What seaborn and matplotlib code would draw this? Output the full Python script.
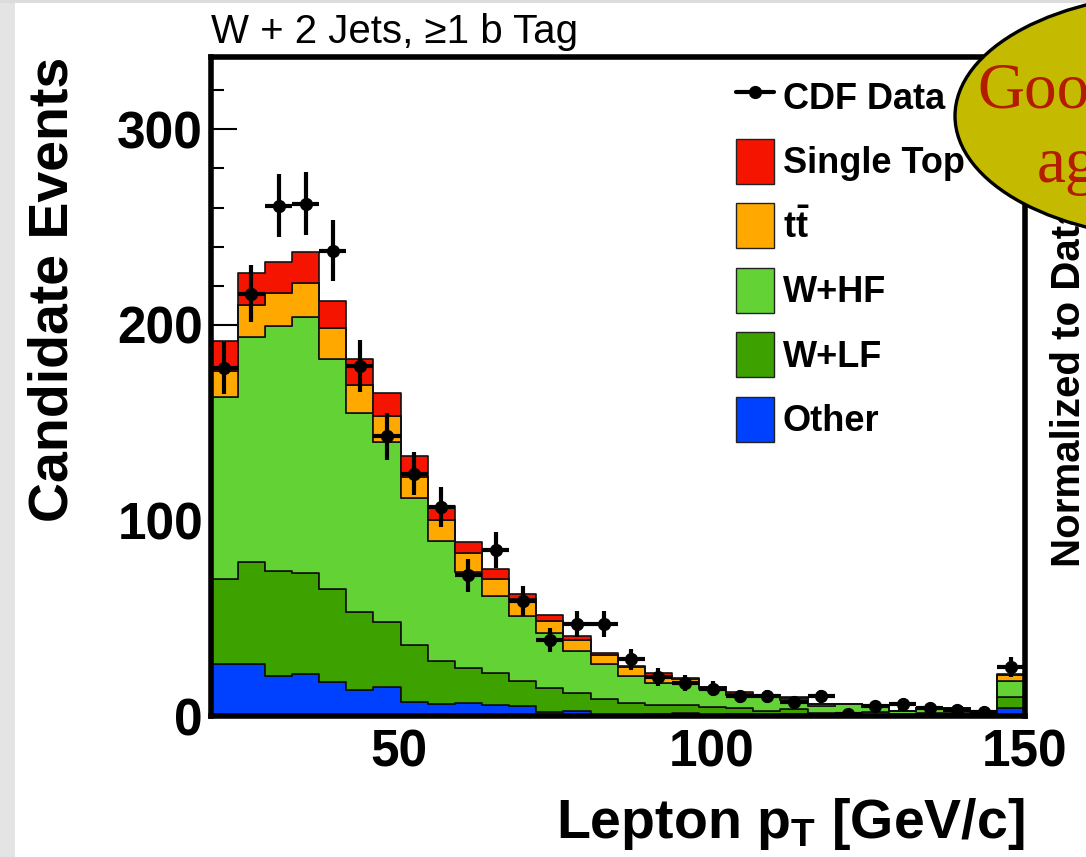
import numpy as np
import pandas as pd
import matplotlib
matplotlib.use("Agg")
import matplotlib.pyplot as plt
import seaborn as sns
from matplotlib.patches import Patch, Ellipse, Rectangle
from matplotlib.lines import Line2D

# ---------------- data ----------------
bin_edges = np.linspace(20, 150, 31)          # lepton pT bins [GeV/c], last bin = overflow
processes = ["Single Top", "ttbar", "W+HF", "W+LF", "Other"]

single_top = [15.3, 16.2, 16.2, 15.6, 13.8, 13.3, 11.5, 10.9, 7.3, 6.0,
              5.2, 2.5, 2.9, 2.0, 1.2, 0.6, 1.3, 0.3, 0.2, 0.6,
              0.2, 0.5, 0.1, 0.0, 0.1, 0.0, 0.0, 0.0, 0.0, 0.3]
ttbar = [13.2, 16.2, 16.7, 17.7, 16.0, 14.1, 13.5, 10.8, 10.8, 9.7,
         8.7, 8.5, 6.2, 5.7, 4.8, 4.4, 3.8, 2.0, 0.6, 0.8,
         0.7, 0.8, 0.9, 0.1, 0.2, 0.1, 0.1, 0.1, 0.1, 2.9]
w_hf = [93.2, 115.4, 125.5, 130.7, 117.8, 101.9, 92.0, 75.0, 61.5, 48.7,
        39.5, 33.2, 28.4, 21.3, 17.6, 14.0, 11.1, 11.4, 9.6, 6.8,
        7.1, 4.8, 3.4, 5.0, 2.5, 1.6, 2.3, 2.3, 0.8, 8.6]
w_lf = [43.7, 52.2, 53.5, 51.9, 47.6, 40.0, 33.3, 29.0, 21.9, 18.2,
        16.2, 13.1, 12.2, 9.2, 8.5, 6.2, 4.6, 3.9, 4.2, 2.9,
        2.5, 2.4, 1.6, 0.9, 1.9, 0.9, 1.4, 1.4, 0.4, 5.6]
other = [26.4, 26.4, 20.5, 21.3, 17.2, 13.3, 14.7, 7.3, 6.1, 6.6,
         5.8, 4.9, 2.0, 2.7, 0.3, 0.3, 1.0, 1.7, 0.2, 1.0,
         0.2, 1.0, 0.1, 0.1, 0.1, 0.1, 0.1, 0.1, 0.1, 3.9]
cdf_data = [178, 216, 261, 262, 238, 179, 143, 124, 107, 72,
            85, 59, 39, 47, 47, 29, 20, 17, 14, 10,
            10, 7, 10, 1, 5, 6, 4, 3, 2, 25]

legend_labels = ["CDF Data", "Single Top", r"$\mathbf{t\bar{t}}$", "W+HF", "W+LF", "Other"]
x_ticks = [50, 100, 150]
y_ticks = [0, 100, 200, 300]

colors = {"Single Top": "#F51400", "ttbar": "#FFA800", "W+HF": "#62D234",
          "W+LF": "#3DA200", "Other": "#0040FF"}

# ---------------- style ----------------
sns.set_style("white")
plt.rcParams["font.family"] = ["Liberation Sans", "DejaVu Sans"]
plt.rcParams["mathtext.fontset"] = "custom"
plt.rcParams["mathtext.rm"] = "Liberation Sans"
plt.rcParams["mathtext.bf"] = "Liberation Sans:bold"
plt.rcParams["mathtext.it"] = "Liberation Sans:italic"
for key in ["text.color", "axes.labelcolor", "xtick.color", "ytick.color", "axes.edgecolor"]:
    plt.rcParams[key] = "black"

W, H = 1086, 857
fig = plt.figure(figsize=(W / 100, H / 100), dpi=100)
fig.patch.set_facecolor("white")

ax_l, ax_r, ax_t, ax_b = 210.7, 1024.6, 57, 716
ax = fig.add_axes([ax_l / W, 1 - ax_b / H, (ax_r - ax_l) / W, (ax_b - ax_t) / H])

centers = 0.5 * (bin_edges[:-1] + bin_edges[1:])
half_w = 0.5 * (bin_edges[1] - bin_edges[0])
series = {"Single Top": single_top, "ttbar": ttbar, "W+HF": w_hf, "W+LF": w_lf, "Other": other}
df = pd.concat([pd.DataFrame({"pt": centers, "w": vals, "proc": name})
                for name, vals in series.items()], ignore_index=True)

sns.histplot(data=df, x="pt", weights="w", hue="proc", hue_order=processes,
             multiple="stack", bins=list(bin_edges), element="step", fill=True,
             palette=colors, alpha=1, edgecolor="#111111", linewidth=1.2,
             legend=False, ax=ax)

data = np.array(cdf_data, dtype=float)
ax.errorbar(centers, data, xerr=half_w, yerr=np.sqrt(data), fmt="o", color="black",
            ms=8.5, lw=3.0, capsize=0, zorder=6)

ax.set_xlim(20, 150)
ax.set_ylim(0, 337)
ax.set_xlabel("")
ax.set_ylabel("")
ax.set_xticks(x_ticks)
ax.set_xticks(np.arange(30, 150, 10), minor=True)
ax.set_yticks(y_ticks)
ax.set_yticks(np.arange(0, 337, 20), minor=True)
ax.tick_params(axis="both", which="both", direction="in", top=False, right=False,
               color="black", labelcolor="black", bottom=True, left=True)
ax.tick_params(axis="y", which="major", length=18.5, width=1.5, labelsize=37, pad=5.5)
ax.tick_params(axis="y", which="minor", length=9.3, width=1.5)
ax.tick_params(axis="x", which="major", length=13.5, width=1.5, labelsize=37, pad=9)
ax.tick_params(axis="x", which="minor", length=7, width=1.5)
for lab in ax.get_xticklabels() + ax.get_yticklabels():
    lab.set_fontweight("bold")
for s in ax.spines.values():
    s.set_visible(True)
    s.set_color("black")
    s.set_linewidth(4)

# legend
handles = [Line2D([0], [0], color="black", lw=3.0, marker="o", ms=8.5)]
for p in processes:
    handles.append(Patch(facecolor=colors[p], edgecolor="#222222", linewidth=1))
ax.legend(handles, legend_labels, loc="upper left",
          bbox_to_anchor=((736 - ax_l) / (ax_r - ax_l), 1 - (74.5 - ax_t) / (ax_b - ax_t)),
          frameon=False, prop={"weight": "bold", "size": 26},
          handlelength=1.06, handleheight=1.54, handletextpad=0.24,
          labelspacing=0.54, borderpad=0, borderaxespad=0)

# texts
fig.text(ax_l / W, 1 - 43 / H, "W + 2 Jets, \u22651 b Tag", ha="left", va="baseline",
         fontsize=29, color="black")
fig.text(ax_r / W, 19 / H, r"Lepton p$_\mathbf{T}$ [GeV/c]", ha="right", va="baseline",
         fontsize=40, fontweight="bold", color="black")
fig.text(68 / W, 1 - 57 / H, "Candidate Events", rotation=90, rotation_mode="anchor",
         ha="right", va="baseline", fontsize=40, fontweight="bold", color="black")
fig.text(1080 / W, 1 - 567 / H, "Normalized to Data", rotation=90, rotation_mode="anchor",
         ha="left", va="baseline", fontsize=29, fontweight="bold", color="black", zorder=1)

# overlay bubble
fig.add_artist(Ellipse((1185 / W, 1 - 116 / H), 2 * 230 / W, 2 * 123 / H,
                       transform=fig.transFigure, facecolor="#C4BB00",
                       edgecolor="black", linewidth=2.4, zorder=20))
fig.text(977 / W, 1 - 108 / H, "Good", ha="left", va="baseline", fontsize=47,
         family=["Liberation Serif", "DejaVu Serif"], color="#B41C00", zorder=21)
fig.text(1037 / W, 1 - 182 / H, "agreement", ha="left", va="baseline", fontsize=47,
         family=["Liberation Serif", "DejaVu Serif"], color="#B41C00", zorder=21)

# slide background edges
fig.add_artist(Rectangle((0, 0), 15 / W, 1, transform=fig.transFigure,
                         facecolor="#e4e4e4", edgecolor="none", zorder=0))
fig.add_artist(Rectangle((0, 1 - 3 / H), 1, 3 / H, transform=fig.transFigure,
                         facecolor="#dcdcdc", edgecolor="none", zorder=0))

fig.savefig("out.png", dpi=100)
